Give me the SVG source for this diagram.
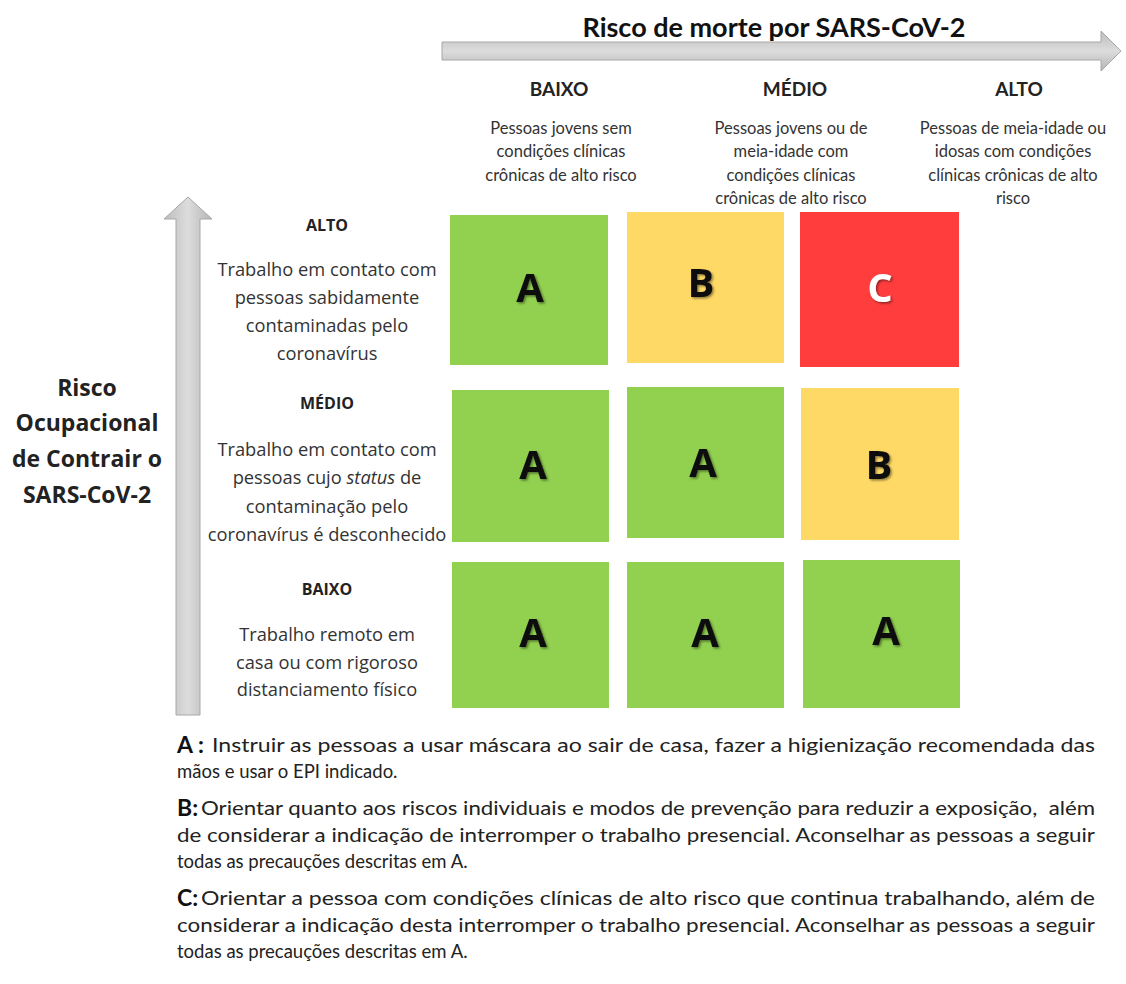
<svg xmlns="http://www.w3.org/2000/svg" width="1126" height="984" viewBox="0 0 1126 984">
<style>
.hdr{font-family:Lato,"Open Sans",sans-serif;font-weight:700;font-size:19px;fill:#222;text-anchor:middle}
.desc{font-family:Lato,"Open Sans",sans-serif;font-size:16.5px;fill:#333;text-anchor:middle}
.rl{font-family:"Open Sans",sans-serif;font-size:18.3px;fill:#333;text-anchor:middle}
.rlb{font-family:"Open Sans",sans-serif;font-weight:700;font-size:16px;fill:#222;text-anchor:middle}
.ax{font-family:"Open Sans",sans-serif;font-weight:700;font-size:23px;fill:#222;text-anchor:middle}
.title{font-family:Lato,"Open Sans",sans-serif;font-weight:700;font-size:27px;fill:#111;text-anchor:middle}
.big{font-family:"Open Sans",sans-serif;font-weight:700;font-size:40px;fill:#111;text-anchor:middle}
.lg{font-family:Lato,"Open Sans",sans-serif;font-size:18.5px;fill:#222}
.lgb{font-family:Lato,"Open Sans",sans-serif;font-weight:700;font-size:23px;fill:#111}
.g{fill:#92d050}.y{fill:#ffd966}.r{fill:#ff3d3d}
</style>
<defs>
<linearGradient id="gh" x1="0" y1="0" x2="0" y2="1">
<stop offset="0" stop-color="#bdbdbd"/><stop offset="0.5" stop-color="#dcdcdc"/><stop offset="1" stop-color="#b5b5b5"/>
</linearGradient>
<linearGradient id="gv" x1="0" y1="0" x2="1" y2="0">
<stop offset="0" stop-color="#bdbdbd"/><stop offset="0.5" stop-color="#dcdcdc"/><stop offset="1" stop-color="#b5b5b5"/>
</linearGradient>
<filter id="sh" x="-30%" y="-30%" width="160%" height="160%">
<feDropShadow dx="1.5" dy="1.5" stdDeviation="1" flood-color="#000" flood-opacity="0.45"/>
</filter>
</defs>
<rect width="1126" height="984" fill="#ffffff"/>

<g id="connectors">
<g id="axis-x">
<path d="M442,42 H1101 V31 L1121,51 L1101,71 V60 H442 Z" fill="url(#gh)" stroke="#a8a8a8" stroke-width="1"/>
</g>
<g id="axis-y">
<path d="M176,715 V219 H164 L188,197 L212,219 H200 V715 Z" fill="url(#gv)" stroke="#a8a8a8" stroke-width="1"/>
</g>
</g>

<g id="title-x">
<text class="title" x="774" y="37">Risco de morte por SARS-CoV-2</text>
</g>

<g id="col-baixo">
<text class="hdr" x="559" y="96">BAIXO</text>
<text class="desc" x="561" y="134">Pessoas jovens sem</text>
<text class="desc" x="561" y="157">condições clínicas</text>
<text class="desc" x="561" y="181">crônicas de alto risco</text>
</g>
<g id="col-medio">
<text class="hdr" x="795" y="96">MÉDIO</text>
<text class="desc" x="791" y="134">Pessoas jovens ou de</text>
<text class="desc" x="791" y="157">meia-idade com</text>
<text class="desc" x="791" y="181">condições clínicas</text>
<text class="desc" x="791" y="204">crônicas de alto risco</text>
</g>
<g id="col-alto">
<text class="hdr" x="1019" y="96">ALTO</text>
<text class="desc" x="1013" y="134">Pessoas de meia-idade ou</text>
<text class="desc" x="1013" y="157">idosas com condições</text>
<text class="desc" x="1013" y="181">clínicas crônicas de alto</text>
<text class="desc" x="1013" y="204">risco</text>
</g>

<g id="title-y">
<text class="ax" x="87" y="396">Risco</text>
<text class="ax" x="87" y="431">Ocupacional</text>
<text class="ax" x="87" y="467">de Contrair o</text>
<text class="ax" x="87" y="503">SARS-CoV-2</text>
</g>

<g id="row-alto">
<text class="rlb" x="327" y="231">ALTO</text>
<text class="rl" x="327" y="276">Trabalho em contato com</text>
<text class="rl" x="327" y="304">pessoas sabidamente</text>
<text class="rl" x="327" y="332">contaminadas pelo</text>
<text class="rl" x="327" y="360">coronavírus</text>
</g>
<g id="row-medio">
<text class="rlb" x="327" y="409">MÉDIO</text>
<text class="rl" x="327" y="456">Trabalho em contato com</text>
<text class="rl" x="327" y="484">pessoas cujo <tspan font-style="italic">status</tspan> de</text>
<text class="rl" x="327" y="513">contaminação pelo</text>
<text class="rl" x="327" y="541">coronavírus é desconhecido</text>
</g>
<g id="row-baixo">
<text class="rlb" x="327" y="595">BAIXO</text>
<text class="rl" x="327" y="641">Trabalho remoto em</text>
<text class="rl" x="327" y="669">casa ou com rigoroso</text>
<text class="rl" x="327" y="696">distanciamento físico</text>
</g>

<g id="cell-alto-baixo"><rect class="g" x="450" y="215" width="158" height="150"/><text class="big" x="530" y="302" filter="url(#sh)">A</text></g>
<g id="cell-alto-medio"><rect class="y" x="627" y="212" width="157" height="151"/><text class="big" x="701" y="297" filter="url(#sh)">B</text></g>
<g id="cell-alto-alto"><rect class="r" x="800" y="212" width="159" height="155"/><text class="big" x="880" y="302" style="fill:#ffffff" filter="url(#sh)">C</text></g>

<g id="cell-medio-baixo"><rect class="g" x="452" y="390" width="157" height="152"/><text class="big" x="533" y="479" filter="url(#sh)">A</text></g>
<g id="cell-medio-medio"><rect class="g" x="627" y="387" width="157" height="151"/><text class="big" x="703" y="477" filter="url(#sh)">A</text></g>
<g id="cell-medio-alto"><rect class="y" x="801" y="388" width="158" height="152"/><text class="big" x="879" y="479" filter="url(#sh)">B</text></g>

<g id="cell-baixo-baixo"><rect class="g" x="452" y="562" width="157" height="146"/><text class="big" x="533" y="647" filter="url(#sh)">A</text></g>
<g id="cell-baixo-medio"><rect class="g" x="627" y="562" width="157" height="146"/><text class="big" x="705" y="647" filter="url(#sh)">A</text></g>
<g id="cell-baixo-alto"><rect class="g" x="803" y="560" width="157" height="148"/><text class="big" x="886" y="645" filter="url(#sh)">A</text></g>

<g id="legend-a">
<text class="lgb" x="177" y="753">A<tspan dx="5">:</tspan></text>
<text class="lg" x="212" y="752" textLength="883" lengthAdjust="spacingAndGlyphs">Instruir as pessoas a usar máscara ao sair de casa, fazer a higienização recomendada das</text>
<text class="lg" x="177" y="778">mãos e usar o EPI indicado.</text>
</g>
<g id="legend-b">
<text class="lgb" x="177" y="816">B:</text>
<text class="lg" x="201" y="815" textLength="894" lengthAdjust="spacingAndGlyphs">Orientar quanto aos riscos individuais e modos de prevenção para reduzir a exposição, &#160;além</text>
<text class="lg" x="177" y="842" textLength="918" lengthAdjust="spacingAndGlyphs">de considerar a indicação de interromper o trabalho presencial. Aconselhar as pessoas a seguir</text>
<text class="lg" x="177" y="868">todas as precauções descritas em A.</text>
</g>
<g id="legend-c">
<text class="lgb" x="177" y="906">C:</text>
<text class="lg" x="201" y="905" textLength="894" lengthAdjust="spacingAndGlyphs">Orientar a pessoa com condições clínicas de alto risco que continua trabalhando, além de</text>
<text class="lg" x="177" y="932" textLength="918" lengthAdjust="spacingAndGlyphs">considerar a indicação desta interromper o trabalho presencial. Aconselhar as pessoas a seguir</text>
<text class="lg" x="177" y="958">todas as precauções descritas em A.</text>
</g>
</svg>
